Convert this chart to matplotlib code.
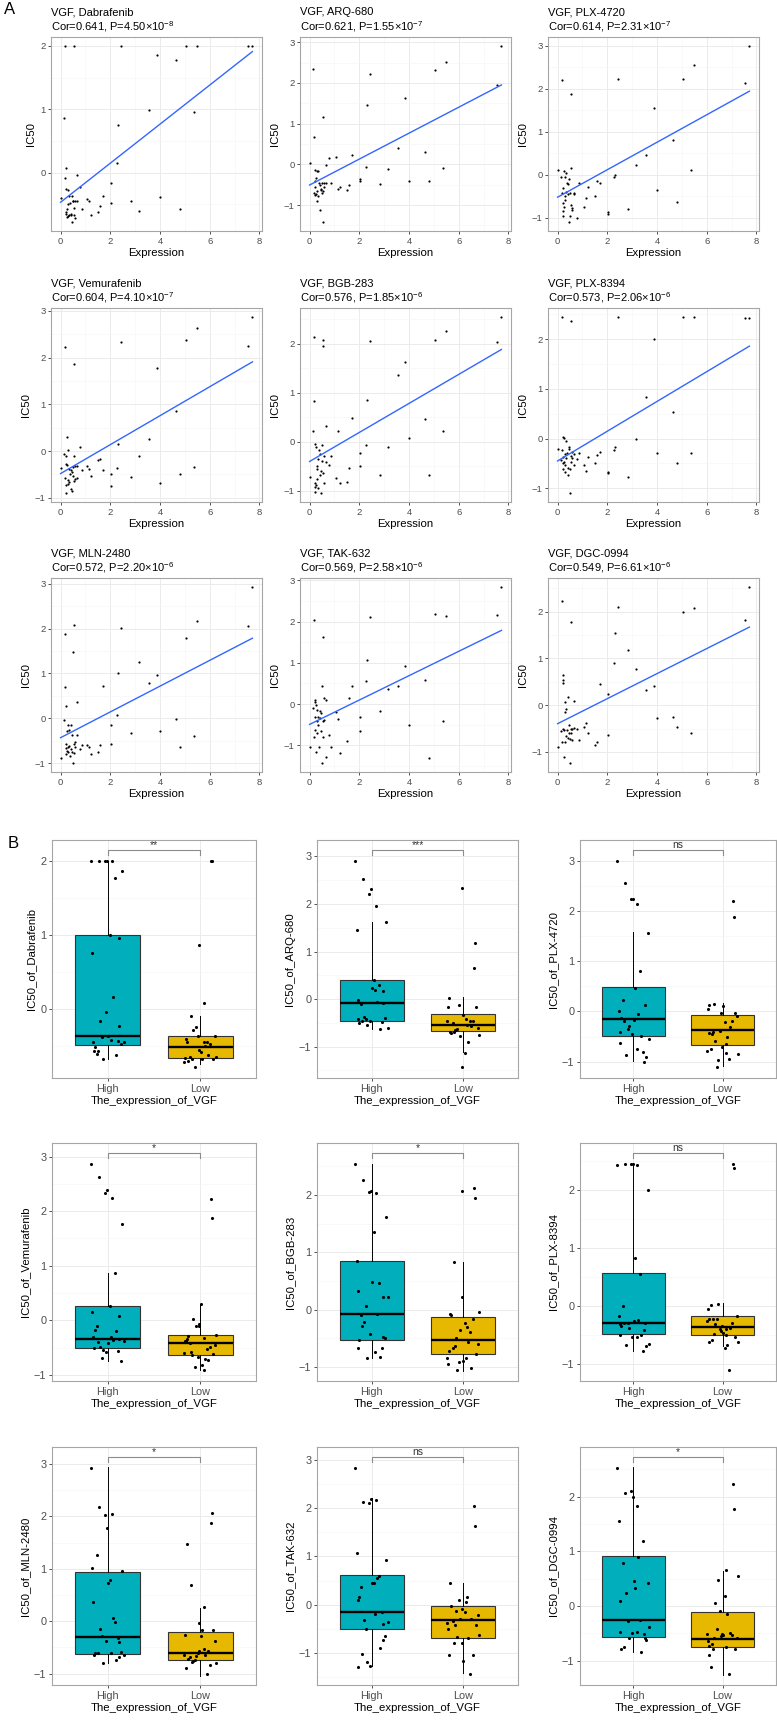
import numpy as np
import matplotlib
matplotlib.use("Agg")
import matplotlib.pyplot as plt
from matplotlib.ticker import MultipleLocator

plt.rcParams['font.family'] = ['Liberation Sans', 'DejaVu Sans']
plt.rcParams['mathtext.fontset'] = 'custom'
plt.rcParams['mathtext.rm'] = 'Liberation Sans'
plt.rcParams['mathtext.it'] = 'Liberation Sans:italic'

# ---- data ----
DRUGS = ['Dabrafenib', 'ARQ-680', 'PLX-4720',
         'Vemurafenib', 'BGB-283', 'PLX-8394',
         'MLN-2480', 'TAK-632', 'DGC-0994']

# VGF expression of the cell lines (same for every drug)
EXPRESSION = [7.72, 7.56, 5.49, 5.35, 5.05, 4.81, 4.66, 4.02, 3.86, 3.56, 3.17, 2.84,
              2.45, 2.32, 2.27, 2.03, 2.01, 1.69, 1.59, 1.49, 1.21, 1.13, 1.06,
              0.00, 0.15, 0.18, 0.19, 0.20, 0.21, 0.22, 0.23, 0.24, 0.26, 0.28, 0.29,
              0.31, 0.33, 0.35, 0.37, 0.40, 0.42, 0.44, 0.46, 0.48, 0.50, 0.52, 0.53,
              0.55, 0.57, 0.60, 0.66, 0.68, 0.80, 0.85]

IC50_DABRAFENIB = [2.0, 2.0, 2.0, 0.96, 2.0, -0.57, 1.77, -0.38, 1.86, 0.99, -0.61, -0.44,
                   2.0, 0.75, 0.16, -0.16, -0.48, -0.37, -0.52, -0.62, -0.67, -0.45, -0.42,
                   -0.40, 0.86, 2.0, -0.09, 0.08, -0.65, -0.25, -0.62, -0.70, -0.58, -0.68, -0.28,
                   -0.50, -0.66, -0.37, -0.48, -0.65, -0.67, -0.37, -0.78, -0.45, -0.45, -0.55, 2.0,
                   -0.67, -0.45, -0.72, -0.45, -0.04, -0.23, -0.57]
IC50_ARQ680 = [2.91, 1.96, 2.52, -0.09, 2.31, -0.41, 0.30, -0.42, 1.62, 0.41, -0.11, -0.48,
               2.21, 1.45, -0.06, -0.37, -0.40, 0.24, -0.51, -0.63, -0.55, -0.60, 0.19,
               0.03, 2.33, 0.66, -0.70, -0.41, -0.75, -0.13, -0.56, -0.72, -0.33, -0.16, -0.65,
               -0.90, -0.16, -0.78, -0.45, -0.50, -1.13, -0.60, -0.62, -0.47, -0.70, -1.42, 1.17,
               -0.65, -0.55, -0.45, -0.01, -0.46, 0.16, -0.47]
IC50_PLX4720 = [3.0, 2.13, 2.56, 0.12, 2.23, -0.63, 0.80, -0.35, 1.56, 0.47, 0.22, -0.80,
                2.24, 0.0, -0.06, -0.87, -0.90, -0.18, -0.14, -0.49, -0.29, -0.54, -0.74,
                0.12, -0.04, 2.20, -0.41, -0.65, -0.84, -0.96, -0.31, -0.74, 0.10, -0.04, -0.58,
                -0.50, 0.05, -0.39, -0.20, -0.45, -0.22, -0.10, -1.10, -0.95, -0.43, -0.70, 1.87,
                0.15, -0.82, -0.78, -0.41, -0.45, -1.00, -0.20]
IC50_VEMURAFENIB = [2.87, 2.24, 2.63, -0.34, 2.38, -0.50, 0.86, -0.69, 1.77, 0.26, -0.10, -0.55,
                    2.34, 0.15, -0.36, -0.49, -0.74, -0.41, -0.18, -0.20, -0.54, -0.38, -0.31,
                    -0.37, -0.06, 2.22, -0.57, -0.90, -0.27, -0.11, -0.72, -0.29, 0.30, -0.61, 0.02,
                    -0.70, -0.38, -0.66, -0.49, -0.41, -0.81, -0.45, -0.86, -0.53, -0.34, -0.10, 1.87,
                    -0.63, -0.32, -0.60, -0.31, -0.57, 0.08, -0.40]
IC50_BGB283 = [2.55, 2.03, 2.27, 0.22, 2.08, -0.67, 0.46, 0.07, 1.62, 1.36, -0.10, -0.68,
               2.05, 0.85, -0.07, -0.22, -0.49, 0.49, -0.53, -0.82, -0.84, 0.22, -0.75,
               -0.72, 0.22, 2.13, 0.83, -0.84, -0.05, -0.92, -1.02, -0.10, -0.89, -0.77, -0.49,
               -0.56, -0.95, -0.36, -0.17, -0.68, -0.24, -0.60, -1.05, -0.40, -0.07, 2.08, 1.95,
               -0.63, -0.30, -0.84, 0.33, -0.42, -0.48, -0.29]
IC50_PLX8394 = [2.43, 2.43, 2.44, -0.30, 2.44, -0.50, 0.54, -0.30, 2.00, 0.83, 0.00, -0.77,
                2.45, -0.17, -0.24, -0.67, -0.69, -0.27, -0.34, -0.50, -0.38, -0.66, -0.54,
                -0.22, -0.44, 2.44, -0.23, -0.50, -0.62, 0.03, -0.38, 0.02, -0.47, -0.54, -0.32,
                -0.67, -0.05, -0.40, -0.30, -0.59, -0.73, -0.17, -0.22, -1.10, -0.62, -0.35, 2.37,
                -0.48, -0.40, -0.27, -0.32, -0.54, -0.42, -0.30]
IC50_MLN2480 = [2.93, 2.05, 2.17, -0.40, 1.78, -0.65, -0.01, -0.29, 0.96, 0.79, 1.26, -0.32,
                2.02, 1.01, 0.07, -0.14, -0.58, 0.72, -0.60, -0.74, -0.79, -0.64, -0.60,
                -0.89, -0.03, 1.88, 0.69, 0.28, -0.79, -0.66, -0.57, -0.72, -0.29, -0.16, -0.75,
                -0.64, -0.27, -0.61, -0.83, -0.69, -0.16, -0.38, -0.74, -1.00, 1.48, -0.57, 2.07,
                -0.77, -0.53, -0.64, 0.36, -0.38, -0.68, -0.60]
IC50_TAK632 = [2.84, 2.16, 2.13, -0.40, 2.19, -1.30, 0.59, -0.51, 0.92, 0.45, 0.37, -0.16,
               2.10, 1.07, 0.55, -0.31, -0.65, 0.44, 0.15, -0.89, -1.19, -0.36, -0.19,
               -1.04, -0.10, 2.04, -0.79, 0.05, -0.62, 0.10, -0.30, -0.02, -1.17, -0.42, -0.14,
               -0.70, -0.50, -0.30, -1.04, -0.34, -0.16, -0.22, -0.66, -1.43, 0.44, -0.79, 1.62,
               -0.42, 0.15, -0.38, 0.09, -1.27, -0.74, -1.03]
IC50_DGC0994 = [2.53, 1.82, 2.07, -0.59, 2.00, -0.47, -0.26, -0.27, 0.41, 0.32, 0.78, 1.19,
                2.10, 1.55, 0.90, 0.23, -0.63, 0.45, -0.79, -0.85, -0.59, -0.39, -0.47,
                -0.90, -0.56, 2.23, -0.79, 0.65, 0.54, 0.47, -0.50, -1.11, -0.54, -0.79, 0.06,
                -0.14, -0.65, -0.09, -0.54, -0.70, 0.18, -0.59, -0.43, -1.24, -0.73, -0.52, 1.78,
                -0.59, -0.75, -0.52, 0.09, -0.49, -0.52, -0.75]

IC50 = [IC50_DABRAFENIB, IC50_ARQ680, IC50_PLX4720,
        IC50_VEMURAFENIB, IC50_BGB283, IC50_PLX8394,
        IC50_MLN2480, IC50_TAK632, IC50_DGC0994]

COR = ['0.641', '0.621', '0.614', '0.604', '0.576', '0.573', '0.572', '0.569', '0.549']
P_MANTISSA = ['4.50', '1.55', '2.31', '4.10', '1.85', '2.06', '2.20', '2.58', '6.61']
P_EXPONENT = ['-8', '-7', '-7', '-7', '-6', '-6', '-6', '-6', '-6']

SIGNIF = ['**', '***', 'ns', '*', '*', 'ns', '*', 'ns', '*']

GROUPS = ['High', 'Low']
# box stats: whisker low, q1, median, q3, whisker high
BOX_HIGH = [[-0.67, -0.49, -0.37, 0.99, 2.00],
            [-0.63, -0.47, -0.08, 0.41, 1.61],
            [-0.98, -0.48, -0.16, 0.48, 1.57],
            [-0.74, -0.50, -0.33, 0.26, 0.87],
            [-0.85, -0.54, -0.08, 0.85, 2.55],
            [-0.78, -0.49, -0.30, 0.56, 2.45],
            [-0.80, -0.62, -0.31, 0.94, 2.95],
            [-1.28, -0.50, -0.15, 0.61, 2.20],
            [-0.85, -0.57, -0.26, 0.91, 2.55]]
BOX_LOW = [[-0.75, -0.66, -0.51, -0.37, -0.09],
           [-1.11, -0.68, -0.54, -0.31, 0.05],
           [-1.08, -0.67, -0.37, -0.08, 0.17],
           [-0.91, -0.64, -0.41, -0.26, 0.29],
           [-1.07, -0.78, -0.54, -0.13, 0.83],
           [-0.70, -0.51, -0.37, -0.18, 0.04],
           [-1.04, -0.74, -0.60, -0.20, 0.26],
           [-1.42, -0.70, -0.32, -0.02, 0.44],
           [-1.26, -0.75, -0.60, -0.11, 0.64]]

GROUP_COLORS = ['#00AFBB', '#E7B800']

for vals in IC50:
    assert len(vals) == len(EXPRESSION)

W, H = 777, 1723


def px_axes(fig, left, top, w, h):
    return fig.add_axes([left / W, 1 - (top + h) / H, w / W, h / H])


def style_axes(ax, ticksize=6.8):
    for s in ax.spines.values():
        s.set_color('#a6a6a6')
        s.set_linewidth(0.8)
    ax.grid(True, which='major', color='#ebebeb', lw=0.7)
    ax.grid(True, which='minor', color='#f5f5f5', lw=0.4)
    ax.set_axisbelow(True)
    ax.tick_params(which='major', length=2.5, width=0.6, color='#333333',
                   labelsize=ticksize, labelcolor='#4d4d4d', pad=1.5)
    ax.tick_params(which='minor', length=0)


def draw_scatter(ax, i):
    x = np.array(EXPRESSION)
    y = np.array(IC50[i])
    ax.scatter(x, y, s=2.5, color='black', linewidths=0, zorder=3)
    k, b = np.polyfit(x, y, 1)
    xs = np.array([x.min(), x.max()])
    ax.plot(xs, k * xs + b, color='#3366FF', lw=1.0, zorder=4)

    rx = x.max() - x.min()
    ry = y.max() - y.min()
    ax.set_xlim(x.min() - 0.05 * rx, x.max() + 0.05 * rx)
    ax.set_ylim(y.min() - 0.05 * ry, y.max() + 0.05 * ry)
    ax.xaxis.set_major_locator(MultipleLocator(2))
    ax.xaxis.set_minor_locator(MultipleLocator(1))
    ax.yaxis.set_major_locator(MultipleLocator(1))
    ax.yaxis.set_minor_locator(MultipleLocator(0.5))
    style_axes(ax)
    ax.set_xlabel('Expression', fontsize=8.2, labelpad=2)
    ax.set_ylabel('IC50', fontsize=8.2, labelpad=3)

    ax.annotate(f'VGF, {DRUGS[i]}', xy=(0, 1), xycoords='axes fraction',
                xytext=(0, 15.5), textcoords='offset points',
                ha='left', va='baseline', fontsize=8)
    ax.annotate(f'Cor={COR[i]}, P={P_MANTISSA[i]}\u00d710$^{{{P_EXPONENT[i]}}}$',
                xy=(0, 1), xycoords='axes fraction',
                xytext=(0, 4.7), textcoords='offset points',
                ha='left', va='baseline', fontsize=8)


def draw_box(ax, i):
    x = np.array(EXPRESSION)
    y = np.array(IC50[i])
    order = np.argsort(-x)
    n_high = len(x) // 2
    groups = [y[order[:n_high]], y[order[n_high:]]]

    stats = []
    for st, lab in zip([BOX_HIGH[i], BOX_LOW[i]], GROUPS):
        stats.append(dict(whislo=st[0], q1=st[1], med=st[2], q3=st[3],
                          whishi=st[4], fliers=[], label=lab))
    bp = ax.bxp(stats, positions=[1, 2], widths=0.7, patch_artist=True,
                showcaps=False, showfliers=False,
                boxprops=dict(edgecolor='#333333', linewidth=0.8),
                medianprops=dict(color='black', linewidth=1.7),
                whiskerprops=dict(color='black', linewidth=0.7))
    for patch, c in zip(bp['boxes'], GROUP_COLORS):
        patch.set_facecolor(c)
        patch.set_zorder(2)

    # deterministic jitter
    for g, vals in enumerate(groups):
        n = len(vals)
        offs = ((np.arange(n) * 0.618034) % 1.0 - 0.5) * 0.36
        ax.scatter(g + 1 + offs, vals, s=5, color='black', linewidths=0, zorder=3)

    ymin, ymax = y.min(), y.max()
    r = ymax - ymin
    yb = ymax + 0.05 * r
    ax.plot([1, 1, 2, 2], [yb - 0.025 * r, yb, yb, yb - 0.025 * r],
            color='#8c8c8c', lw=0.8, zorder=4)
    ax.annotate(SIGNIF[i], xy=(1.5, yb), xytext=(0, 1.5), textcoords='offset points',
                ha='center', va='baseline', fontsize=7.5, color='#333333')

    ax.set_xlim(0.4, 2.6)
    ax.set_ylim(ymin - 0.055 * r, ymax + 0.1 * r)
    ax.set_xticks([1, 2])
    ax.set_xticklabels(GROUPS)
    ax.yaxis.set_major_locator(MultipleLocator(1))
    ax.yaxis.set_minor_locator(MultipleLocator(0.5))
    style_axes(ax, ticksize=7.8)
    ax.set_xlabel('The_expression_of_VGF', fontsize=8.2, labelpad=2)
    ax.set_ylabel(f'IC50_of_{DRUGS[i]}', fontsize=8.2, labelpad=3)


fig = plt.figure(figsize=(W / 100, H / 100), dpi=100)

scatter_lefts = [51, 300, 548]
scatter_tops = [37, 308, 578]
for i in range(9):
    ax = px_axes(fig, scatter_lefts[i % 3], scatter_tops[i // 3], 211, 194)
    draw_scatter(ax, i)

box_lefts = [52, 317, 580]
box_widths = [204, 201, 196]
box_tops = [840, 1143, 1447]
for i in range(9):
    ax = px_axes(fig, box_lefts[i % 3], box_tops[i // 3], box_widths[i % 3], 238)
    draw_box(ax, i)

fig.text(4 / W, 1 - 9 / H, 'A', fontsize=12, ha='left', va='center')
fig.text(8 / W, 1 - 843 / H, 'B', fontsize=12, ha='left', va='center')

fig.savefig('out.png', dpi=100)
